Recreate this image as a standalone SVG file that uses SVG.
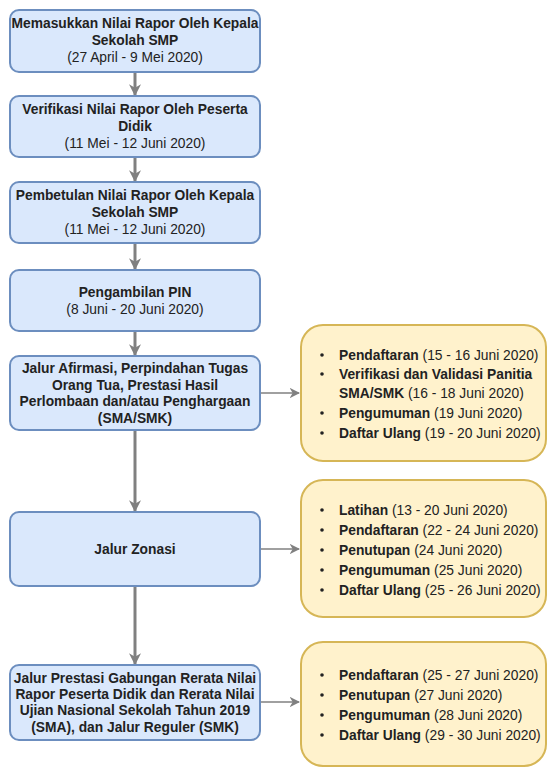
<svg xmlns="http://www.w3.org/2000/svg" width="547" height="769" viewBox="0 0 547 769">
<style>
.blue{fill:#dae8fc;stroke:#6c8ebf;stroke-width:2}
.yel{fill:#fff2cc;stroke:#d6b656;stroke-width:2}
text{font-family:"Liberation Sans",Arial,sans-serif;font-size:13.8px;fill:#222}
.c{text-anchor:middle}
.b{font-weight:bold}
.v{fill:none;stroke:#808080;stroke-width:3}
.h{fill:none;stroke:#808080;stroke-width:1.5}
.dot{fill:#222}
</style>
<defs>
<marker id="av" viewBox="0 0 10 10" refX="9" refY="5" markerWidth="4" markerHeight="4" orient="auto" markerUnits="strokeWidth">
<path d="M0,0 L10,5 L0,10 L3,5 Z" fill="#808080"/>
</marker>
<marker id="ah" viewBox="0 0 10 10" refX="9" refY="5" markerWidth="7" markerHeight="7" orient="auto" markerUnits="strokeWidth">
<path d="M0,0 L10,5 L0,10 L3,5 Z" fill="#808080"/>
</marker>
</defs>
<g id="connectors">
<line class="v" x1="135" y1="73" x2="135" y2="95" marker-end="url(#av)"/>
<line class="v" x1="135" y1="158" x2="135" y2="181" marker-end="url(#av)"/>
<line class="v" x1="135" y1="244" x2="135" y2="269" marker-end="url(#av)"/>
<line class="v" x1="135" y1="332" x2="135" y2="355" marker-end="url(#av)"/>
<line class="v" x1="135" y1="431" x2="135" y2="511" marker-end="url(#av)"/>
<line class="v" x1="135" y1="587" x2="135" y2="664" marker-end="url(#av)"/>
<line class="h" x1="261" y1="393" x2="299" y2="393" marker-end="url(#ah)"/>
<line class="h" x1="261" y1="549" x2="299" y2="549" marker-end="url(#ah)"/>
<line class="h" x1="261" y1="702" x2="299" y2="702" marker-end="url(#ah)"/>
</g>
<g id="n1">
<rect class="blue" x="10" y="10" width="250" height="62" rx="9"/>
<text class="c b" x="135" y="28">Memasukkan Nilai Rapor Oleh Kepala</text>
<text class="c b" x="135" y="45">Sekolah SMP</text>
<text class="c" x="135" y="62">(27 April - 9 Mei 2020)</text>
</g>
<g id="n2">
<rect class="blue" x="10" y="96" width="250" height="61" rx="9"/>
<text class="c b" x="135" y="114">Verifikasi Nilai Rapor Oleh Peserta</text>
<text class="c b" x="135" y="131">Didik</text>
<text class="c" x="135" y="148">(11 Mei - 12 Juni 2020)</text>
</g>
<g id="n3">
<rect class="blue" x="10" y="182" width="250" height="61" rx="9"/>
<text class="c b" x="135" y="200">Pembetulan Nilai Rapor Oleh Kepala</text>
<text class="c b" x="135" y="217">Sekolah SMP</text>
<text class="c" x="135" y="234">(11 Mei - 12 Juni 2020)</text>
</g>
<g id="n4">
<rect class="blue" x="10" y="270" width="250" height="61" rx="9"/>
<text class="c b" x="135" y="297">Pengambilan PIN</text>
<text class="c" x="135" y="314">(8 Juni - 20 Juni 2020)</text>
</g>
<g id="n5">
<rect class="blue" x="10" y="356" width="250" height="74" rx="9"/>
<text class="c b" x="135" y="373">Jalur Afirmasi, Perpindahan Tugas</text>
<text class="c b" x="135" y="390">Orang Tua, Prestasi Hasil</text>
<text class="c b" x="135" y="406">Perlombaan dan/atau Penghargaan</text>
<text class="c b" x="135" y="423">(SMA/SMK)</text>
</g>
<g id="n6">
<rect class="blue" x="10" y="512" width="250" height="74" rx="9"/>
<text class="c b" x="135" y="554">Jalur Zonasi</text>
</g>
<g id="n7">
<rect class="blue" x="10" y="665" width="250" height="75" rx="9"/>
<text class="c b" x="135" y="683">Jalur Prestasi Gabungan Rerata Nilai</text>
<text class="c b" x="135" y="699">Rapor Peserta Didik dan Rerata Nilai</text>
<text class="c b" x="135" y="715">Ujian Nasional Sekolah Tahun 2019</text>
<text class="c b" x="135" y="732">(SMA), dan Jalur Reguler (SMK)</text>
</g>
<g id="y1">
<rect class="yel" x="301" y="325" width="245" height="136" rx="22"/>
<circle class="dot" cx="322" cy="355" r="1.8"/>
<text x="339" y="360"><tspan class="b">Pendaftaran</tspan> (15 - 16 Juni 2020)</text>
<circle class="dot" cx="322" cy="374" r="1.8"/>
<text x="339" y="379" class="b">Verifikasi dan Validasi Panitia</text>
<text x="339" y="398"><tspan class="b">SMA/SMK</tspan> (16 - 18 Juni 2020)</text>
<circle class="dot" cx="322" cy="413" r="1.8"/>
<text x="339" y="418"><tspan class="b">Pengumuman</tspan> (19 Juni 2020)</text>
<circle class="dot" cx="322" cy="433" r="1.8"/>
<text x="339" y="438"><tspan class="b">Daftar Ulang</tspan> (19 - 20 Juni 2020)</text>
</g>
<g id="y2">
<rect class="yel" x="301" y="480" width="245" height="137" rx="22"/>
<circle class="dot" cx="322" cy="510" r="1.8"/>
<text x="339" y="515"><tspan class="b">Latihan</tspan> (13 - 20 Juni 2020)</text>
<circle class="dot" cx="322" cy="530" r="1.8"/>
<text x="339" y="535"><tspan class="b">Pendaftaran</tspan> (22 - 24 Juni 2020)</text>
<circle class="dot" cx="322" cy="550" r="1.8"/>
<text x="339" y="555"><tspan class="b">Penutupan</tspan> (24 Juni 2020)</text>
<circle class="dot" cx="322" cy="570" r="1.8"/>
<text x="339" y="575"><tspan class="b">Pengumuman</tspan> (25 Juni 2020)</text>
<circle class="dot" cx="322" cy="590" r="1.8"/>
<text x="339" y="595"><tspan class="b">Daftar Ulang</tspan> (25 - 26 Juni 2020)</text>
</g>
<g id="y3">
<rect class="yel" x="301" y="642" width="245" height="124" rx="22"/>
<circle class="dot" cx="322" cy="675" r="1.8"/>
<text x="339" y="680"><tspan class="b">Pendaftaran</tspan> (25 - 27 Juni 2020)</text>
<circle class="dot" cx="322" cy="695" r="1.8"/>
<text x="339" y="700"><tspan class="b">Penutupan</tspan> (27 Juni 2020)</text>
<circle class="dot" cx="322" cy="715" r="1.8"/>
<text x="339" y="720"><tspan class="b">Pengumuman</tspan> (28 Juni 2020)</text>
<circle class="dot" cx="322" cy="735" r="1.8"/>
<text x="339" y="740"><tspan class="b">Daftar Ulang</tspan> (29 - 30 Juni 2020)</text>
</g>
</svg>
